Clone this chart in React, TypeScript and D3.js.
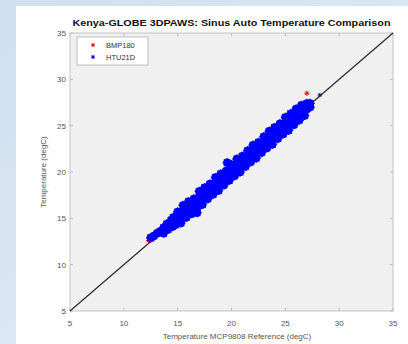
import React from "react";
import * as d3 from "d3";

const W = 408;
const H = 344;

const xTicks = [5, 10, 15, 20, 25, 30, 35];
const yTicks = [5, 10, 15, 20, 25, 30, 35];
const refLine = [[5, 5], [35, 35]];

const seriesNames = ["BMP180", "HTU21D"];
const seriesColors = ["#ff0000", "#0000ff"];

const bmp180 = [
  [12.3, 12.6], [12.6, 12.7], [15.0, 15.0], [20.0, 20.0], [25.0, 25.0], [27.0, 28.5],
];

const htuTip = [
  [12.5, 12.9], [12.8, 13.1], [13.1, 13.4], [13.4, 13.6], [13.7, 14.0], [13.7, 13.4],
  [14.0, 14.4], [14.1, 13.8], [14.4, 14.8], [14.5, 14.1], [14.6, 15.1], [14.8, 14.3], [14.5, 14.5],
];
const htuRowA = [
  [15.0, 15.7], [15.5, 16.4], [16.0, 16.8], [16.5, 17.1], [17.0, 17.9], [17.5, 18.3], [18.0, 18.7],
  [18.5, 19.4], [19.0, 19.8], [19.5, 20.1], [20.0, 20.8], [20.5, 21.4], [21.0, 21.7], [21.5, 22.3],
  [22.0, 22.9], [22.5, 23.2], [23.0, 23.8], [23.5, 24.4], [24.0, 24.8], [24.5, 25.2], [25.0, 25.9],
  [25.5, 26.3], [26.0, 26.8], [26.5, 27.2], [27.0, 27.4],
];
const htuRowB = [
  [15.0, 15.3], [15.5, 15.8], [16.0, 16.3], [16.5, 16.9], [17.0, 17.3], [17.5, 17.8], [18.0, 18.4],
  [18.5, 18.8], [19.0, 19.3], [19.5, 19.9], [20.0, 20.3], [20.5, 20.8], [21.0, 21.4], [21.5, 21.8],
  [22.0, 22.3], [22.5, 22.9], [23.0, 23.3], [23.5, 23.8], [24.0, 24.4], [24.5, 24.8], [25.0, 25.3],
  [25.5, 25.9], [26.0, 26.3], [26.5, 26.8], [27.0, 27.2], [27.3, 27.4],
];
const htuRowC = [
  [15.0, 14.8], [15.5, 15.3], [16.0, 15.8], [16.5, 16.3], [17.0, 16.8], [17.5, 17.2], [18.0, 17.8],
  [18.5, 18.3], [19.0, 18.8], [19.5, 19.3], [20.0, 19.8], [20.5, 20.2], [21.0, 20.8], [21.5, 21.3],
  [22.0, 21.8], [22.5, 22.3], [23.0, 22.8], [23.5, 23.2], [24.0, 23.8], [24.5, 24.3], [25.0, 24.8],
  [25.5, 25.3], [26.0, 25.8], [26.5, 26.3], [27.0, 26.8], [27.3, 27.0],
];
const htuRowD = [
  [15.3, 14.5], [15.8, 15.1], [16.3, 15.5], [16.8, 16.1], [17.3, 16.5], [17.8, 17.1], [18.3, 17.6],
  [18.8, 18.0], [19.3, 18.6], [19.8, 19.1], [20.3, 19.6], [20.8, 20.0], [21.3, 20.6], [21.8, 21.1],
  [22.3, 21.5], [22.8, 22.1], [23.3, 22.6], [23.8, 23.0], [24.3, 23.6], [24.8, 24.1], [25.3, 24.5],
  [25.8, 25.1], [26.3, 25.6], [26.8, 26.1],
];
const htuStray = [[19.6, 21.0], [16.8, 15.6]];
const htuOutlier = [[28.2, 28.3]];

const htu21d = [...htuTip, ...htuRowA, ...htuRowB, ...htuRowC, ...htuRowD, ...htuStray];

const left = 70, right = 393, top = 33, bottom = 311;

function Star({ cx, cy, r, color, fill, fr, sw }: any) {
  const d = r * 0.707;
  return (
    <g stroke={color} strokeWidth={sw || 1}>
      {fill ? <circle cx={cx} cy={cy} r={fr} fill={color} stroke="none" /> : null}
      <line x1={cx - r} y1={cy} x2={cx + r} y2={cy} />
      <line x1={cx} y1={cy - r} x2={cx} y2={cy + r} />
      <line x1={cx - d} y1={cy - d} x2={cx + d} y2={cy + d} />
      <line x1={cx - d} y1={cy + d} x2={cx + d} y2={cy - d} />
    </g>
  );
}

export default function App() {
  const x = d3.scaleLinear().domain([5, 35]).range([left, right]);
  const y = d3.scaleLinear().domain([5, 35]).range([bottom, top]);
  const line = d3.line<number[]>().x((d) => x(d[0])).y((d) => y(d[1]));
  const font = "'Liberation Sans', Arial, Helvetica, sans-serif";
  const tickColor = "#555";

  return (
    <div style={{ position: "absolute", left: 0, top: 0 }}>
      <svg width={W} height={H} style={{ display: "block" }} fontFamily={font}>
        <defs>
          <linearGradient id="bg" x1="0" y1="0" x2="1" y2="1">
            <stop offset="0" stopColor="#cfdff0" />
            <stop offset="1" stopColor="#e4eef8" />
          </linearGradient>
        </defs>
        <rect x={0} y={0} width={W} height={H} fill="url(#bg)" />
        <rect x={16} y={6} width={W - 16} height={H - 6} fill="#ffffff" />
        <rect x={left} y={top} width={right - left} height={bottom - top} fill="#f0f0f0" />

        {xTicks.map((t) => (
          <g key={"xt" + t}>
            <line x1={x(t)} x2={x(t)} y1={bottom} y2={bottom - 3} stroke="#bbb" />
            <line x1={x(t)} x2={x(t)} y1={top} y2={top + 3} stroke="#bbb" />
            <text x={x(t)} y={bottom + 15} textAnchor="middle" fontSize={8} fill={tickColor}>{t}</text>
          </g>
        ))}
        {yTicks.map((t) => (
          <g key={"yt" + t}>
            <line x1={left} x2={left + 3} y1={y(t)} y2={y(t)} stroke="#bbb" />
            <line x1={right} x2={right - 3} y1={y(t)} y2={y(t)} stroke="#bbb" />
            <text x={left - 4} y={y(t) + 3} textAnchor="end" fontSize={8} fill={tickColor}>{t}</text>
          </g>
        ))}
        <rect x={left} y={top} width={right - left} height={bottom - top} fill="none" stroke="#c4c4c4" strokeWidth={1} />

        <path d={line(refLine as any) || ""} stroke="#2a2a2a" strokeWidth={1.2} fill="none" />

        {bmp180.map((p, i) => (
          <Star key={"b" + i} cx={x(p[0])} cy={y(p[1])} r={2.5} color={seriesColors[0]} fill={false} />
        ))}
        {htu21d.map((p, i) => (
          <Star key={"h" + i} cx={x(p[0])} cy={y(p[1])} r={4.6} fr={4.2} sw={1.2} color={seriesColors[1]} fill={true} />
        ))}
        {htuOutlier.map((p, i) => (
          <Star key={"o" + i} cx={x(p[0])} cy={y(p[1])} r={2.2} color="#1a1a66" fill={false} />
        ))}

        <text x={(left + right) / 2} y={26} textAnchor="middle" fontSize={9} fontWeight="bold" fill="#111"
          textLength={318} lengthAdjust="spacingAndGlyphs">
          Kenya-GLOBE 3DPAWS: Sinus Auto Temperature Comparison
        </text>

        <text x={237} y={339} textAnchor="middle" fontSize={8} fill={tickColor}>
          Temperature MCP9808 Reference (degC)
        </text>
        <text transform={`translate(46,${(top + bottom) / 2}) rotate(-90)`} textAnchor="middle" fontSize={8} fill={tickColor}>
          Temperature (degC)
        </text>

        <rect x={77} y={37} width={71} height={28} fill="#ffffff" stroke="#b0b0b0" strokeWidth={0.8} />
        {seriesNames.map((n, i) => (
          <g key={n}>
            <Star cx={93} cy={45 + i * 12} r={2} color={seriesColors[i]} fill={false} />
            <text x={106} y={48 + i * 12} fontSize={7.5} fill="#333">{n}</text>
          </g>
        ))}
      </svg>
    </div>
  );
}
